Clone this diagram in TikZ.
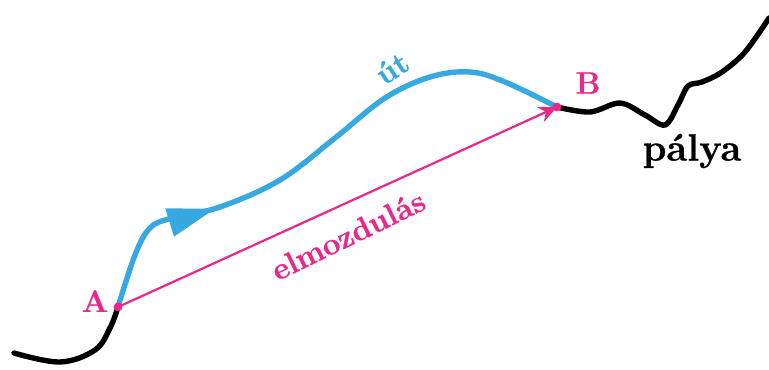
\documentclass[tikz,border=0pt]{standalone}
\usepackage{fontspec}
\setmainfont{Latin Modern Roman}[BoldFeatures={FakeBold=0.8}]
\usetikzlibrary{arrows.meta,decorations.markings}
\definecolor{utkek}{HTML}{38A9E0}
\definecolor{elmpink}{HTML}{E8288A}
\tikzset{
  palyavonal/.style={black, line width=2.7pt, line cap=round, line join=round},
  utvonal/.style={utkek, line width=2.7pt, line cap=round, line join=round,
    postaction={decorate, decoration={markings,
      mark=at position 0.285 with {\arrow{Triangle[length=24pt,width=14pt]}}}}},
  felirat/.style={font=\fontsize{15.5}{18}\selectfont\bfseries},
}
\begin{document}
\begin{tikzpicture}[x=0.5pt, y=-0.5pt]
			% Define window bounds
			\useasboundingbox (0,0) rectangle (769,369);
			
			% Start and end points
			\coordinate (A) at (118,307);
			\coordinate (B) at (557,107);
			
			% Trajectory (palya), left and right parts
			\draw[palyavonal] plot[smooth, tension=0.6] coordinates {
				(14,353) (60,362) (95,350) (110,328) (A)};
			\draw[palyavonal] plot[smooth, tension=0.55] coordinates {
				(B) (590,112) (620,103) (645,115) (665,125) (678,105) (688,86)
				(702,82) (722,72) (745,52) (769,18)};
			
			% Path (ut) between A and B
			\draw[utvonal] plot[smooth, tension=0.6] coordinates {
				(A) (135,255) (150,228) (172,218) (220,207) (280,180) (335,138)
				(385,98) (430,77) (470,72) (505,82) (557,107)};
			
			% Displacement vector
			\draw[elmpink, line width=1.1pt, -{Stealth[length=9pt,width=8pt]}] (A) -- (B);
			\fill[elmpink] (A) circle (2.2pt);
			\fill[elmpink] (B) circle (2.2pt);
			
			% Labels
			\node[felirat, text=elmpink] (lA) at (95,301) {A};
			\node[felirat, text=elmpink] (lB) at (588,83) {B};
			\node[felirat, text=utkek, rotate=33] (lut) at (392,68) {út};
			\node[felirat, text=elmpink, rotate=26] (lelm) at (348,235) {elmozdulás};
			\node[felirat, font=\fontsize{19}{22}\selectfont\bfseries] (lpalya) at (692,151) {pálya};
\end{tikzpicture}
\end{document}
